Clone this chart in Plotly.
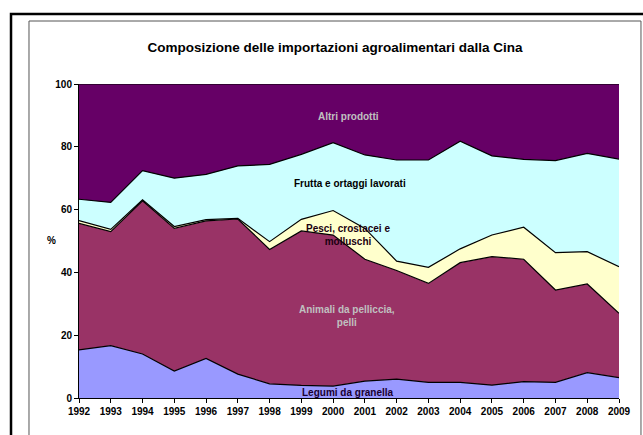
import plotly.graph_objects as go

# Composizione % delle importazioni agroalimentari dalla Cina
anni = list(range(1992, 2010))

legumi = [15.3, 16.7, 14.0, 8.6, 12.6, 7.6, 4.5, 4.0, 3.8, 5.4, 6.0, 5.0, 5.0, 4.1, 5.2, 5.0, 8.1, 6.5]
animali = [40.3, 36.3, 48.8, 45.4, 43.8, 49.4, 42.8, 49.2, 48.1, 38.8, 34.6, 31.5, 38.1, 40.9, 39.0, 29.4, 28.2, 20.5]
pesci = [0.9, 0.7, 0.3, 0.6, 0.4, 0.2, 2.5, 3.7, 7.8, 9.8, 3.0, 5.1, 4.4, 6.9, 10.2, 11.9, 10.3, 14.8]
frutta = [6.8, 8.6, 9.3, 15.4, 14.4, 16.7, 24.6, 20.7, 21.6, 23.4, 32.2, 34.2, 34.3, 25.2, 21.6, 29.3, 31.3, 34.3]
altri = [36.7, 37.7, 27.6, 30.0, 28.8, 26.1, 25.6, 22.4, 18.7, 22.6, 24.2, 24.2, 18.2, 22.9, 24.0, 24.4, 22.1, 23.9]

serie = [
    ('Legumi da granella', legumi, '#9999FF'),
    ('Animali da pelliccia, pelli', animali, '#993366'),
    ('Pesci, crostacei e molluschi', pesci, '#FFFFCC'),
    ('Frutta e ortaggi lavorati', frutta, '#CCFFFF'),
    ('Altri prodotti', altri, '#660066'),
]

fig = go.Figure()
for nome, valori, colore in serie:
    fig.add_trace(go.Scatter(
        x=anni, y=valori, name=nome, mode='lines', stackgroup='uno',
        line=dict(color='black', width=1.2), fillcolor=colore,
    ))

font = 'Liberation Sans, Arial, sans-serif'

fig.update_layout(
    width=643, height=435,
    margin=dict(l=79, r=24, t=84, b=37),
    paper_bgcolor='white', plot_bgcolor='white',
    showlegend=False,
    font=dict(family=font, color='black'),
    title=dict(text='Composizione delle importazioni agroalimentari dalla Cina',
               x=0.521, xanchor='center', y=0.892, yanchor='middle',
               font=dict(size=13.5, weight='bold', family=font)),
    xaxis=dict(range=[1992, 2009], dtick=1, tick0=1992, showgrid=False, zeroline=False,
               showline=True, linecolor='black', linewidth=1,
               ticks='outside', ticklen=4, tickcolor='black',
               tickfont=dict(size=10, weight='bold', family=font)),
    yaxis=dict(range=[0, 100], dtick=20, showgrid=False, zeroline=False,
               showline=True, linecolor='black', linewidth=1,
               ticks='outside', ticklen=4, tickcolor='black',
               tickfont=dict(size=10, weight='bold', family=font)),
)

# cornici esterne
fig.add_shape(type='rect', xref='paper', yref='paper', x0=-0.1259, x1=1.09, y0=-0.25, y1=1.2229,
              line=dict(color='black', width=2.5), layer='above')
fig.add_shape(type='rect', xref='paper', yref='paper', x0=-0.0926, x1=1.0407, y0=-0.25, y1=1.2006,
              line=dict(color='#555555', width=1), layer='above')

fig.add_annotation(x=-0.063, y=0.503, xref='paper', yref='paper', text='%', showarrow=False,
                   font=dict(size=10, weight='bold', family=font))

etichette = [
    ('Altri prodotti', 2000.49, 89.5, '#C0C0C0'),
    ('Frutta e ortaggi lavorati', 2000.52, 68.2, 'black'),
    ('Pesci, crostacei e<br>molluschi', 2000.47, 52.0, '#1a0010'),
    ('Animali da pelliccia,<br>pelli', 2000.45, 26.1, '#C0C0C0'),
    ('Legumi da granella', 2000.46, 1.9, '#1a0030'),
]
for testo, xx, yy, col in etichette:
    fig.add_annotation(x=xx, y=yy, text=testo, showarrow=False,
                       font=dict(size=10, weight='bold', family=font, color=col))

# niente margine della pagina, così la figura riempie la finestra
fig.write_html('out.html', config={'displayModeBar': False},
               post_script="document.body.style.margin='0';")
